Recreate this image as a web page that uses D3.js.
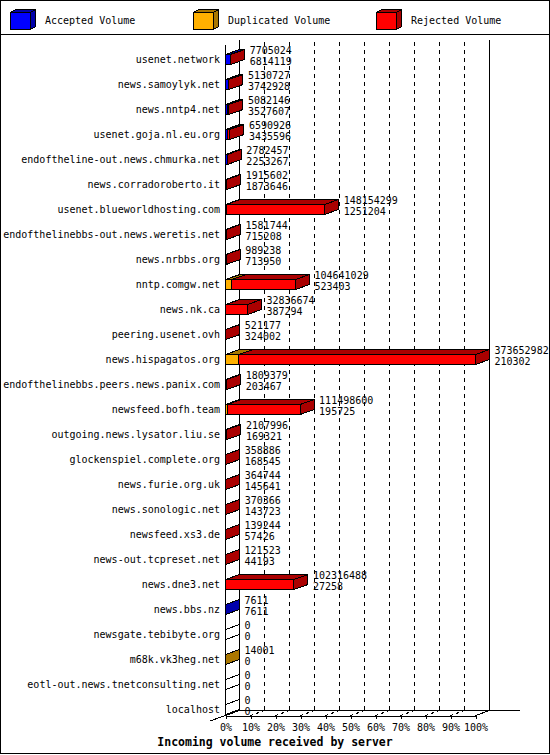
<!DOCTYPE html>
<html>
<head>
<meta charset="utf-8">
<script src="https://cdn.jsdelivr.net/npm/d3@7"></script>
<style>
  body { margin: 0; background: #fff; }
  svg { display: block; }
  text { font-family: "DejaVu Sans Mono", monospace; fill: #000; }
</style>
</head>
<body>
<script>
// servers, in the order they are listed
const servers = [
  'usenet.network', 'news.samoylyk.net', 'news.nntp4.net', 'usenet.goja.nl.eu.org',
  'endoftheline-out.news.chmurka.net', 'news.corradoroberto.it', 'usenet.blueworldhosting.com',
  'endofthelinebbs-out.news.weretis.net', 'news.nrbbs.org', 'nntp.comgw.net', 'news.nk.ca',
  'peering.usenet.ovh', 'news.hispagatos.org', 'endofthelinebbs.peers.news.panix.com',
  'newsfeed.bofh.team', 'outgoing.news.lysator.liu.se', 'glockenspiel.complete.org',
  'news.furie.org.uk', 'news.sonologic.net', 'newsfeed.xs3.de', 'news-out.tcpreset.net',
  'news.dne3.net', 'news.bbs.nz', 'newsgate.tebibyte.org', 'm68k.vk3heg.net',
  'eotl-out.news.tnetconsulting.net', 'localhost'
]

// numbers printed next to each bar
const volTotal = [
  7705024, 5130727, 5082146, 6590926, 2782457, 1915602, 148154299, 1581744, 989238,
  104641029, 32836674, 521177, 373652982, 1809379, 111498600, 2107996, 358886, 364744,
  370366, 139244, 121523, 102316488, 7611, 0, 14001, 0, 0
]
const volAccepted = [
  6814119, 3742928, 3527607, 3435596, 2253267, 1873646, 1251204, 715208, 713950,
  523403, 387294, 324002, 210302, 203467, 195725, 169321, 168545, 145641,
  143723, 57426, 44193, 27258, 7611, 0, 0, 0, 0
]
// duplicated / rejected volume, estimated from the bar segments
const volDuplicated = [
  0, 0, 0, 0, 0, 0, 0, 0, 0,
  9000000, 0, 0, 19900000, 0, 2500000, 0, 0, 0,
  0, 0, 0, 0, 0, 0, 14001, 0, 0
]
const volRejected = [
  890905, 1387799, 1554539, 3155330, 529190, 41956, 146903095, 866536, 275288,
  95117626, 32449380, 197175, 353542680, 1605912, 108802875, 1938675, 190341, 219103,
  226643, 81818, 77330, 102289230, 0, 0, 0, 0, 0
]

const legendLabels = ['Accepted Volume', 'Duplicated Volume', 'Rejected Volume']
const pctTicks = [0, 0.1, 0.2, 0.3, 0.4, 0.5, 0.6, 0.7, 0.8, 0.9, 1]
const xTitle = 'Incoming volume received by server'

const colors = ['#0000ff', '#ffb000', '#ff0000']
const darks = ['#0000aa', '#aa7700', '#aa0000']

const width = 550
const height = 755
const dx = 14, dy = -5
const x0 = 225.5, x1 = 475.5
const wallTop = 40, floor = 715.5

const svg = d3.select('body').append('svg')
  .attr('width', width).attr('height', height)
  .attr('shape-rendering', 'crispEdges')

svg.append('rect').attr('x', 0.5).attr('y', 0.5).attr('width', width - 1).attr('height', 753)
  .attr('fill', '#fff').attr('stroke', '#000')

const maxVol = d3.max(servers, (s, i) => volAccepted[i] + volDuplicated[i] + volRejected[i])
const x = d3.scaleLinear().domain([0, maxVol]).range([x0, x1])
const pct = d3.scaleLinear().domain([0, 1]).range([x0, x1])
const y = d3.scaleBand().domain(servers).range([46.5, 46.5 + 25 * servers.length])

const line = (a, b, c, d, dash) => svg.append('line')
  .attr('x1', a).attr('y1', b).attr('x2', c).attr('y2', d)
  .attr('stroke', '#000').attr('stroke-dasharray', dash || null)

// back wall with dashed grid
pctTicks.slice(1, -1).forEach(t => {
  line(pct(t) + dx, wallTop + 2, pct(t) + dx, floor + dy, '4,4')
  line(pct(t), floor, pct(t) + dx, floor + dy, '3,3')
})
line(x0 + dx, wallTop, x0 + dx, floor + dy)
line(x1 + dx, wallTop, x1 + dx, floor + dy)
line(x0 + dx, floor + dy, 520, floor + dy)
line(x0, wallTop - dy, x0, floor)
line(210, floor + 5.5, x0 + dx, floor + dy)
line(x1, floor, x1 + dx, floor + dy)

// bars
const poly = pts => pts.map(p => p.join(',')).join(' ')
servers.forEach((s, i) => {
  const c = y(s) + y.bandwidth() / 2
  const yt = c - 4.5, yb = c + 5.5
  const segs = [volAccepted[i], volDuplicated[i], volRejected[i]]
  const g = svg.append('g')
  let cum = 0, last = -1
  segs.forEach((v, k) => {
    if (v <= 0) return
    const a = x(cum), b = x(cum + v)
    g.append('rect').attr('x', a).attr('y', yt).attr('width', b - a).attr('height', yb - yt)
      .attr('fill', colors[k]).attr('stroke', '#000')
    g.append('polygon').attr('points', poly([[a, yt], [a + dx, yt + dy], [b + dx, yt + dy], [b, yt]]))
      .attr('fill', darks[k]).attr('stroke', '#000')
    cum += v
    last = k
  })
  const e = x(cum)
  g.append('polygon').attr('points', poly([[e, yt], [e + dx, yt + dy], [e + dx, yb + dy], [e, yb]]))
    .attr('fill', last < 0 ? '#fff' : darks[last]).attr('stroke', '#000')

  g.append('text').attr('x', e + dx + 5).attr('y', c - 9).attr('dy', '0.35em')
    .attr('font-size', 10).text(volTotal[i])
  g.append('text').attr('x', e + dx + 5).attr('y', c + 2).attr('dy', '0.35em')
    .attr('font-size', 10).text(volAccepted[i])

  svg.append('text').attr('x', 220).attr('y', c).attr('dy', '0.35em')
    .attr('text-anchor', 'end').attr('font-size', 10).text(s)
})

// x axis
const axis = svg.append('g').attr('transform', `translate(0,${floor})`)
  .call(d3.axisBottom(pct).tickValues(pctTicks).tickFormat(d3.format('.0%'))
    .tickSize(3).tickSizeOuter(0).tickPadding(5))
axis.selectAll('text').attr('font-family', '"DejaVu Sans Mono", monospace').attr('font-size', 10)
axis.select('.domain').attr('stroke', '#000')

svg.append('text').attr('x', width / 2).attr('y', 742).attr('dy', '0.35em')
  .attr('text-anchor', 'middle').attr('font-size', 11.5).attr('font-weight', 'bold')
  .text(xTitle)

// legend
line(0, 34.5, width, 34.5)
legendLabels.forEach((l, k) => {
  const lx = 10.5 + k * 183, ly = 12.5, w = 20, h = 17, d = 5, e = -3
  const g = svg.append('g')
  g.append('rect').attr('x', lx).attr('y', ly).attr('width', w).attr('height', h)
    .attr('fill', colors[k]).attr('stroke', '#000')
  g.append('polygon').attr('points', poly([[lx, ly], [lx + d, ly + e], [lx + w + d, ly + e], [lx + w, ly]]))
    .attr('fill', darks[k]).attr('stroke', '#000')
  g.append('polygon').attr('points', poly([[lx + w, ly], [lx + w + d, ly + e], [lx + w + d, ly + h + e], [lx + w, ly + h]]))
    .attr('fill', darks[k]).attr('stroke', '#000')
  g.append('text').attr('x', lx + 34.5).attr('y', 20).attr('dy', '0.35em')
    .attr('font-size', 10).text(l)
})
</script>
</body>
</html>
